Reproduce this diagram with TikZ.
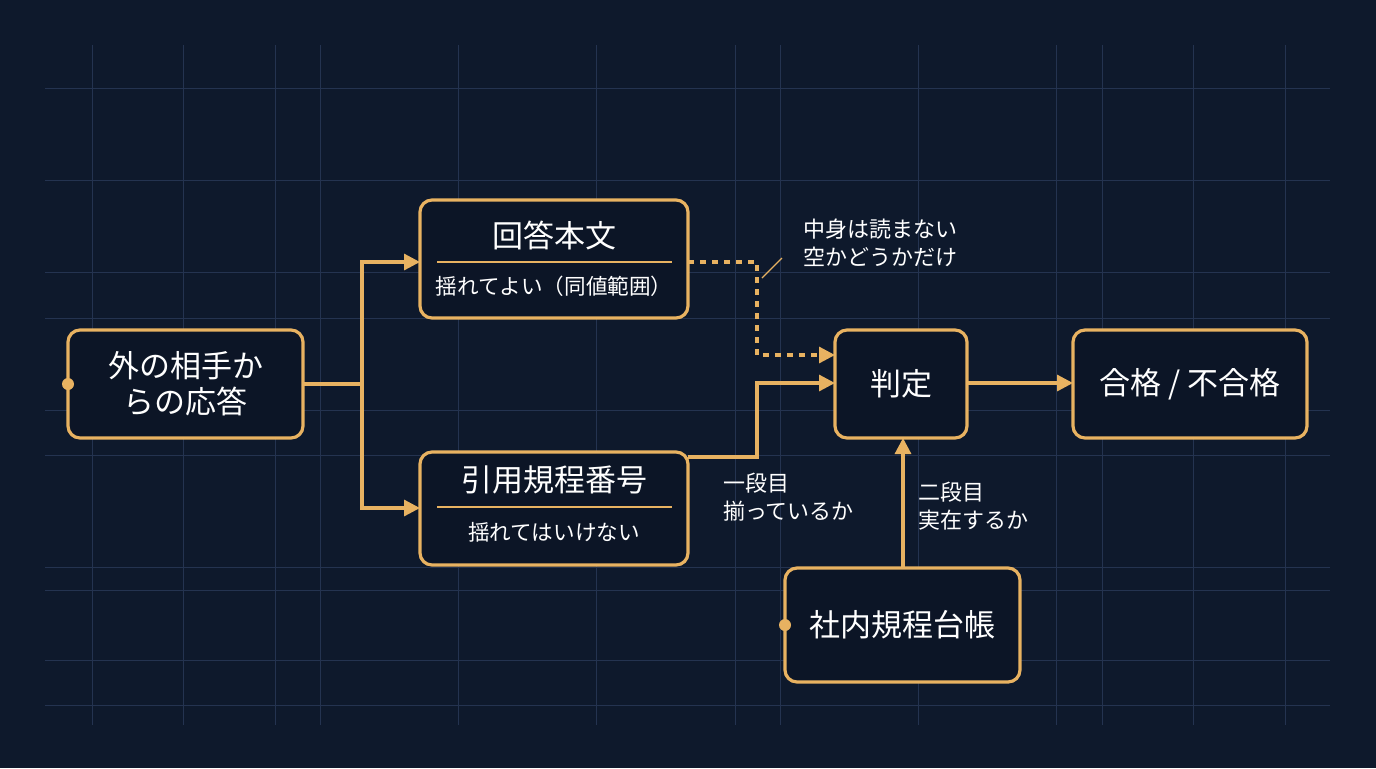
\documentclass[tikz,border=0pt]{standalone}
\usepackage{fontspec}
\setmainfont{Noto Sans CJK JP}
\usetikzlibrary{arrows.meta}
\definecolor{bg}{HTML}{0E192C}
\definecolor{grid}{HTML}{243350}
\definecolor{org}{HTML}{E8B261}
\definecolor{boxbg}{HTML}{0C1526}
\begin{document}
\begin{tikzpicture}[x=0.5pt,y=-0.5pt,
  box/.style={draw=org,line width=1.6pt,rounded corners=6pt,fill=boxbg},
  con/.style={draw=org,line width=1.6pt,-{Triangle[length=8pt,width=8pt]}},
  txt/.style={text=white,font=\fontsize{15.5}{18}\selectfont,align=center},
  sub/.style={text=white,font=\fontsize{10.8}{13}\selectfont},
  lab/.style={text=white,font=\fontsize{11}{14}\selectfont,align=left,anchor=west},
  dot/.style={circle,fill=org,inner sep=0pt,minimum size=6pt}]
\fill[bg] (0,0) rectangle (1376,768);
\useasboundingbox (0,0) rectangle (1376,768);
\foreach \x in {92,183,275,320,458,596,735,780,918,1056,1102,1193,1285}
  \draw[grid,line width=0.5pt] (\x,45) -- (\x,725);
\foreach \y in {88,180,272,318,410,455,567,590,660,705}
  \draw[grid,line width=0.5pt] (45,\y) -- (1330,\y);
% boxes
\draw[box] (68,330) rectangle (303,438);
\node[txt] (out) at (185.5,384) {外の相手か\\らの応答};
\node[dot] (outdot) at (68,384) {};
\draw[box] (420,200) rectangle (688,318);
\node[txt] (ans) at (554,235) {回答本文};
\draw[org,line width=0.8pt] (437,262) -- (672,262);
\node[sub] (anssub) at (554,286) {揺れてよい（同値範囲）};
\draw[box] (420,452) rectangle (688,565);
\node[txt] (ref) at (554,480) {引用規程番号};
\draw[org,line width=0.8pt] (437,507) -- (672,507);
\node[sub] (refsub) at (554,532) {揺れてはいけない};
\draw[box] (835,330) rectangle (967,438);
\node[txt] (jud) at (901,384) {判定};
\draw[box] (1073,330) rectangle (1307,438);
\node[txt] (res) at (1190,384) {合格 / 不合格};
\draw[box] (785,568) rectangle (1020,682);
\node[txt] (led) at (902.5,625) {社内規程台帳};
\node[dot] (leddot) at (785,625) {};
% anchors
\coordinate (o1) at (303,384);
\coordinate (br) at (362,384);
\coordinate (a1) at (420,262);
\coordinate (r1) at (420,508);
\coordinate (ar) at (688,262);
\coordinate (j1) at (835,355);
\coordinate (rr) at (688,457);
\coordinate (j2) at (835,383);
\coordinate (jr) at (967,383);
\coordinate (rl) at (1073,383);
\coordinate (lt) at (903,568);
\coordinate (jb) at (903,438);
\draw[org,line width=1.6pt] (o1) -- (br);
\draw[con] (br) |- (a1);
\draw[con] (br) |- (r1);
\draw[con,dashed] (ar) -- (757,262) -- (757,355) -- (j1);
\draw[con] (rr) -- (757,457) -- (757,383) -- (j2);
\draw[con] (jr) -- (rl);
\draw[con] (lt) -- (jb);
% labels
\draw[org,line width=0.6pt] (762,278) -- (782,258);
\node[lab] (l1) at (796,243) {中身は読まない\\空かどうかだけ};
\node[lab] (l2) at (716,497) {一段目\\揃っているか};
\node[lab] (l3) at (911,506) {二段目\\実在するか};
\end{tikzpicture}
\end{document}
